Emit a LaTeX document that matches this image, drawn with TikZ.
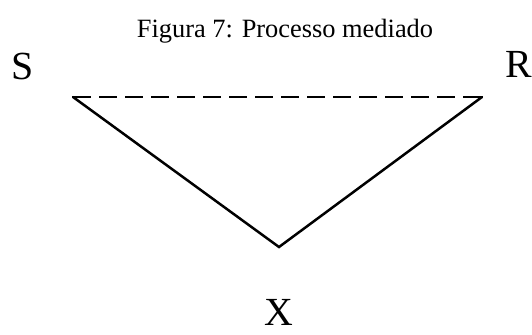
\documentclass[tikz,border=0pt]{standalone}
\usepackage{fontspec}
\setmainfont{Liberation Serif}
\tikzset{
	titletext/.style={anchor=base, inner sep=0pt, font=\fontsize{26.5}{32}\selectfont},
	lettertext/.style={anchor=center, inner sep=0pt, font=\fontsize{40}{46}\selectfont},
	edgeline/.style={line width=2.5pt, line cap=round},
	dashline/.style={line width=2.5pt, dash pattern=on 18bp off 8bp}
}
\begin{document}
\begin{tikzpicture}[x=1bp, y=-1bp]
	\useasboundingbox (0,0) rectangle (532,334);
	% Title, labels and corners:
	\node[titletext] (title) at (285, 37){Figura 7: Processo mediado};
	\node[lettertext] (s) at (23, 66){S};
	\node[lettertext] (r) at (519, 64){R};
	\node[lettertext] (x) at (279, 312){X};
	\coordinate (left) at (73, 97);
	\coordinate (right) at (482, 97);
	\coordinate (bottom) at (279, 247);
	% Paths:
	\draw[dashline] (left) -- (right);
	\draw[edgeline] (left) -- (bottom) -- (right);
\end{tikzpicture}
\end{document}
